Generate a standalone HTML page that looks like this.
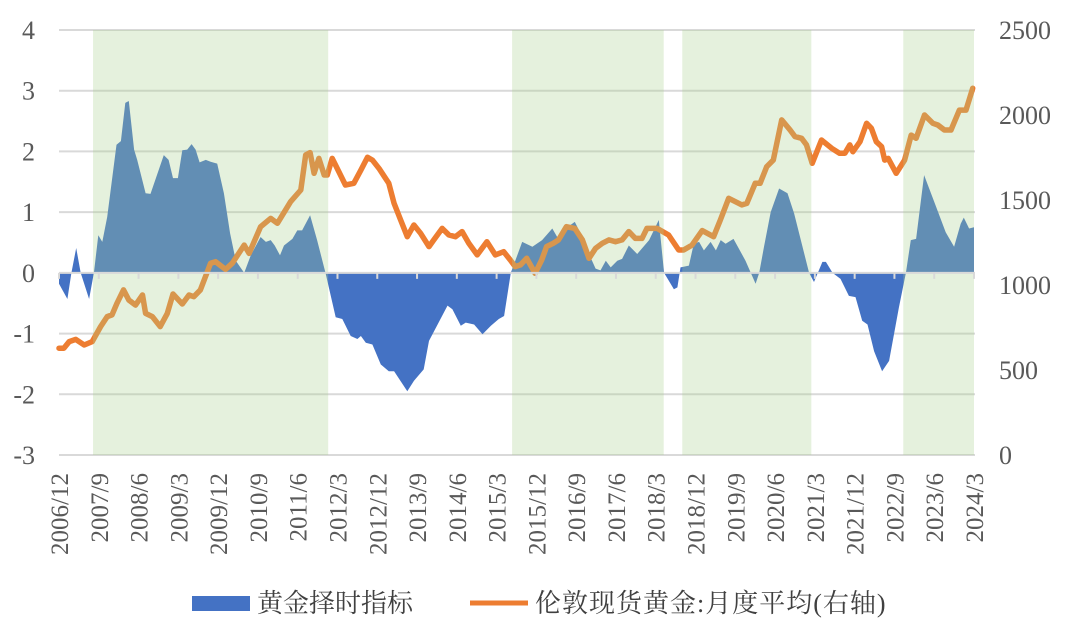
<!DOCTYPE html>
<html><head><meta charset="utf-8">
<style>
html,body{margin:0;padding:0;background:#fff;}
svg{display:block;font-family:"Liberation Serif","Noto Serif CJK SC",serif;}
</style></head>
<body>
<svg id="chart" width="1071" height="624" viewBox="0 0 1071 624" xmlns="http://www.w3.org/2000/svg">
<g id="grid"></g>
<g id="area"></g>
<g id="line"></g>
<g id="shade"></g>
<g id="axes"></g>
<g>
  <rect x="192" y="596" width="58" height="15" fill="#4472C4"/>
  <text x="257" y="612" font-size="26" fill="#404040">黄金择时指标</text>
  <line x1="470" y1="603" x2="528" y2="603" stroke="#ED7D31" stroke-width="5"/>
  <text x="535" y="612" font-size="26" letter-spacing="1" fill="#404040">伦敦现货黄金:月度平均(右轴)</text>
</g>
</svg>
<script>
const xTickLabels = ["2006/12","2007/9","2008/6","2009/3","2009/12","2010/9","2011/6","2012/3","2012/12","2013/9","2014/6","2015/3","2015/12","2016/9","2017/6","2018/3","2018/12","2019/9","2020/6","2021/3","2021/12","2022/9","2023/6","2024/3"];
const leftTicks = [4,3,2,1,0,-1,-2,-3];
const rightTicks = [2500,2000,1500,1000,500,0];
const shadeStart = [7.7,102.5,141,191];
const shadeEnd = [60.9,136.8,170.2,207];
const indMonth = [0,1.9,2.8,3.9,4.9,6.8,7.9,8.9,9.8,10.9,13,14,15,15.8,17,17.7,19.6,20.7,23.7,24.8,25.8,26.9,27.9,29,30,30.9,31.8,33.2,34.3,35.8,37.3,38.7,40,41.9,43.4,45.6,46.8,47.9,48.8,50,50.9,52.8,53.9,55,56.8,58.4,60.3,62.6,64.1,66,67.5,68.3,69.4,70.9,72.8,74.6,75.8,78.8,80.3,82.5,83.7,87.9,89,90.9,92,93.9,95.8,97.7,99.5,100.7,102.2,104.8,107.1,109.3,111.6,112.7,114.6,116.7,118.4,119.9,121.4,122.5,123.7,124.8,126.3,127.4,128.9,130.8,133.5,135.7,136.9,139.1,139.9,140.6,142.5,143.6,144.8,145.9,147.4,148.6,149.7,150.8,152.6,155.3,157.6,158.4,159.5,161,162.9,164.8,166.3,169.7,170.8,172.7,173.5,175,176.8,178.7,180.2,181.7,182.9,184.4,186.2,187.8,190,191.6,192.7,193.9,195.7,198,200.6,202.5,204,204.7,205.9,207];
const indValue = [-0.18,-0.43,0,0.41,0,-0.43,0,0.62,0.51,0.92,2.11,2.17,2.8,2.83,2.03,1.86,1.31,1.3,1.94,1.86,1.56,1.56,2.02,2.03,2.12,2.03,1.82,1.86,1.83,1.8,1.31,0.65,0.2,0,0.29,0.59,0.51,0.54,0.45,0.29,0.45,0.56,0.7,0.7,0.95,0.54,0,-0.73,-0.76,-1.04,-1.09,-1.04,-1.15,-1.18,-1.51,-1.62,-1.62,-1.95,-1.78,-1.59,-1.12,-0.54,-0.6,-0.87,-0.82,-0.85,-1.01,-0.87,-0.76,-0.71,0,0.51,0.43,0.54,0.73,0.59,0.73,0.84,0.59,0.31,0.07,0.04,0.2,0.09,0.2,0.23,0.45,0.31,0.54,0.87,0,-0.27,-0.24,0.09,0.12,0.48,0.51,0.37,0.51,0.37,0.54,0.48,0.56,0.2,-0.18,0,0.43,1.0,1.39,1.31,0.98,0,-0.15,0.18,0.18,0,-0.1,-0.38,-0.4,-0.79,-0.85,-1.29,-1.62,-1.45,-0.57,0,0.54,0.56,1.61,1.17,0.67,0.43,0.81,0.91,0.73,0.75];
const goldMonth = [0,1.1,2.3,3.8,5.7,7.5,9.4,10.9,12,13.1,14.6,15.8,17.3,18.9,19.6,21.1,22.9,24.5,25.8,27.9,29.4,30.5,32,34.3,35.4,37.7,39.2,41.9,43,45.6,47.9,49.4,52.4,54.7,55.8,56.8,57.7,58.8,60,60.7,61.8,63.3,64.8,66.7,68.3,69.8,70.9,72.4,74.6,75.8,77.3,78.8,80.3,81.8,83.7,84.8,86.7,88.2,89.7,91.2,92.7,94.6,96.8,98.7,100.6,102.1,103.2,104.4,105.8,107.7,109.2,110.3,111.8,113,114.8,116.7,118.4,119.9,121.4,122.9,124.4,125.9,127.4,128.9,130.4,131.9,133,135.3,137.9,140.2,141.3,143.2,145.5,148.1,149.6,151.5,154.5,155.6,157.5,158.6,160.1,161.6,163.5,165.4,166.5,168,169.1,170.4,172.5,174.8,176.6,177.8,178.9,179.6,181.2,182.7,183.8,184.9,186.1,186.8,187.6,189.4,191.3,192.8,193.9,195.8,197.7,198.8,200.3,201.8,203.7,205.2,206.7];
const goldPrice = [628,628,667,680,647,667,755,814,824,892,971,912,882,941,833,814,755,833,947,888,941,931,971,1128,1137,1092,1128,1235,1186,1343,1392,1363,1490,1559,1765,1779,1657,1745,1647,1647,1745,1667,1588,1598,1676,1751,1735,1686,1598,1480,1382,1284,1353,1304,1226,1265,1333,1294,1284,1314,1245,1177,1255,1177,1196,1147,1108,1118,1157,1069,1147,1226,1245,1265,1343,1333,1265,1157,1216,1245,1265,1255,1265,1314,1274,1274,1333,1333,1294,1206,1206,1235,1320,1284,1382,1510,1471,1480,1598,1598,1696,1735,1971,1912,1873,1863,1824,1716,1853,1804,1775,1775,1824,1784,1843,1951,1922,1843,1814,1735,1745,1657,1735,1882,1863,2000,1951,1941,1912,1912,2029,2029,2157];

const NS="http://www.w3.org/2000/svg";
const X0=59,X1=974,MMAX=207,YT=30,YB=455;
const xS=m=>X0+(X1-X0)*m/MMAX;
const yL=v=>YT+(4-v)*(YB-YT)/7;
const yR=p=>YB-p*(YB-YT)/2500;
function mk(tag,attrs,parent){const e=document.createElementNS(NS,tag);for(const k in attrs)e.setAttribute(k,attrs[k]);parent.appendChild(e);return e;}
const grid=document.getElementById('grid'),area=document.getElementById('area'),line=document.getElementById('line'),shade=document.getElementById('shade'),axes=document.getElementById('axes');

leftTicks.forEach(v=>{
  if(v!==0){const g=mk('line',{x1:X0,x2:X1+1,y1:yL(v),y2:yL(v),stroke:'#d9d9d9','stroke-width':2},grid);
  
  }
  const t=mk('text',{x:35,y:yL(v)+9,'text-anchor':'end','font-size':26,fill:'#595959'},axes);
  t.textContent=v;
  
  
});
rightTicks.forEach(p=>{
  const t=mk('text',{x:999,y:yR(p)+9,'font-size':26,fill:'#595959'},axes);
  t.textContent=p;
  
  
});

let d='M'+xS(indMonth[0])+','+yL(0);
indMonth.forEach((m,i)=>{d+=' L'+xS(m).toFixed(1)+','+yL(indValue[i]).toFixed(1);});
d+=' L'+xS(indMonth[indMonth.length-1])+','+yL(0)+' Z';
const ap=mk('path',{d:d,fill:'#4472C4'},area);



const za=mk('line',{x1:X0,x2:X1+1,y1:yL(0),y2:yL(0),stroke:'#d9d9d9','stroke-width':2},axes);


xTickLabels.forEach((lab,i)=>{
  const m=i*9,x=xS(m);
  const tk=mk('line',{x1:x,x2:x,y1:yL(0),y2:yL(0)+6,stroke:'#d9d9d9','stroke-width':2},axes);
  
  
  const t=mk('text',{x:0,y:0,'text-anchor':'end','font-size':25,fill:'#595959',transform:'translate('+(x+9)+',473) rotate(-90)'},axes);
  t.textContent=lab;
  
  
});

let ld='';
goldMonth.forEach((m,i)=>{ld+=(i?' L':'M')+xS(m).toFixed(1)+','+yR(goldPrice[i]).toFixed(1);});
const lp=mk('path',{d:ld,fill:'none',stroke:'#ED7D31','stroke-width':5.5,'stroke-linejoin':'round','stroke-linecap':'round'},line);



shadeStart.forEach((s,i)=>{
  const r=mk('rect',{x:xS(s),y:YT,width:xS(shadeEnd[i])-xS(s),height:YB-YT,fill:'#a9d18e','fill-opacity':0.3},shade);
  
  
});
</script>
</body></html>
